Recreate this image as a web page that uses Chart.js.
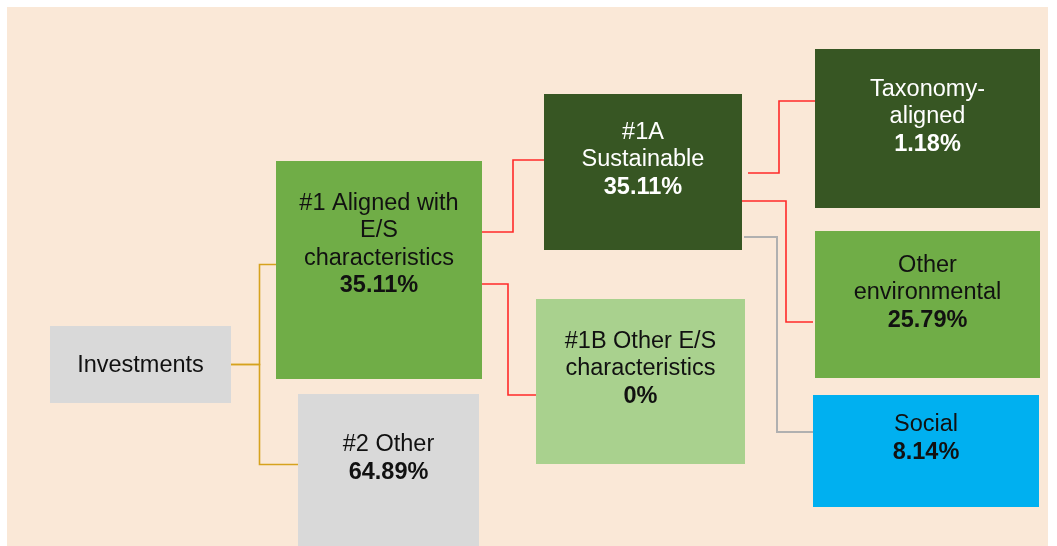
<!DOCTYPE html>
<html>
<head>
<meta charset="utf-8">
<script src="https://cdn.jsdelivr.net/npm/chart.js@4/dist/chart.umd.min.js"></script>
<style>
  html, body { margin: 0; padding: 0; background: #fff; }
  #tree { display: block; }
</style>
</head>
<body>
<canvas id="tree" width="1057" height="546"></canvas>
<script>
// data
const nodeLabels = [
    ['Investments'],
    ['#1 Aligned with', 'E/S', 'characteristics'],
    ['#2 Other'],
    ['#1A', 'Sustainable'],
    ['#1B Other E/S', 'characteristics'],
    ['Taxonomy-', 'aligned'],
    ['Other', 'environmental'],
    ['Social']
];
const nodeShares = [null, 35.11, 64.89, 35.11, 0, 1.18, 25.79, 8.14];
const nodeParents = [null, 0, 0, 1, 1, 3, 3, 3];

// layout (page pixels): box left, top, right, bottom, first text line y
const boxLeft   = [50, 276, 298, 544, 536, 815, 815, 813];
const boxTop    = [326, 161, 394, 94, 299, 49, 231, 395];
const boxRight  = [231, 482, 479, 742, 745, 1040, 1040, 1039];
const boxBottom = [403, 379, 560, 250, 464, 208, 378, 507];
const textTop   = [366, 203.5, 445, 132.5, 341.5, 89.5, 265.5, 425];
const boxColors = ['#D9D9D9', '#70AD47', '#D9D9D9', '#375623', '#A9D18E', '#375623', '#70AD47', '#00B0F0'];
const textColors = ['#111', '#111', '#111', '#fff', '#111', '#fff', '#111', '#111'];

// connectors: [fromX, fromY, elbowX, toY, toX], colour
const links = [
    [231, 364.5, 259.5, 264.5, 276, '#D6A21E'],
    [231, 364.5, 259.5, 464.5, 298, '#D6A21E'],
    [482, 232, 513, 160, 544, '#FF2A2A'],
    [479, 284, 508, 395, 536, '#FF2A2A'],
    [748, 173, 779, 101, 815, '#FF2A2A'],
    [742, 201, 786, 322, 813, '#FF2A2A'],
    [744, 237, 777, 432, 818, '#B0B0B0']
];

const lineHeight = 27.5;
const fontFamily = 'Arial, "Liberation Sans", Helvetica, sans-serif';

const treePlugin = {
    id: 'treeBoxes',
    beforeDraw(chart) {
        const c = chart.ctx;
        const x = chart.scales.x, y = chart.scales.y;
        c.save();
        c.fillStyle = '#fff';
        c.fillRect(0, 0, chart.width, chart.height);
        c.fillStyle = '#FAE8D7';
        c.fillRect(x.getPixelForValue(7), y.getPixelForValue(7),
            x.getPixelForValue(1048) - x.getPixelForValue(7), y.getPixelForValue(546) - y.getPixelForValue(7));
        c.restore();
    },
    afterDatasetsDraw(chart) {
        const c = chart.ctx;
        const x = chart.scales.x, y = chart.scales.y;
        c.save();
        links.forEach(l => {
            c.strokeStyle = l[5];
            c.lineWidth = l[5] === '#B0B0B0' ? 2 : 1.6;
            c.beginPath();
            c.moveTo(x.getPixelForValue(l[0]), y.getPixelForValue(l[1]));
            c.lineTo(x.getPixelForValue(l[2]), y.getPixelForValue(l[1]));
            c.lineTo(x.getPixelForValue(l[2]), y.getPixelForValue(l[3]));
            c.lineTo(x.getPixelForValue(l[4]), y.getPixelForValue(l[3]));
            c.stroke();
        });
        nodeLabels.forEach((lines, i) => {
            const x0 = x.getPixelForValue(boxLeft[i]), x1 = x.getPixelForValue(boxRight[i]);
            const y0 = y.getPixelForValue(boxTop[i]), y1 = y.getPixelForValue(boxBottom[i]);
            c.fillStyle = boxColors[i];
            c.fillRect(x0, y0, x1 - x0, y1 - y0);
            c.fillStyle = textColors[i];
            c.textAlign = 'center';
            c.textBaseline = 'middle';
            const cx = (x0 + x1) / 2;
            let ty = y.getPixelForValue(textTop[i]);
            c.font = '23.5px ' + fontFamily;
            lines.forEach(t => { c.fillText(t, cx, ty); ty += lineHeight; });
            if (nodeShares[i] !== null) {
                c.font = 'bold 23.5px ' + fontFamily;
                c.fillText(nodeShares[i] + '%', cx, ty);
            }
        });
        c.restore();
    }
};

new Chart(document.getElementById('tree'), {
    type: 'scatter',
    data: {
        datasets: [{
            data: nodeLabels.map((_, i) => ({ x: (boxLeft[i] + boxRight[i]) / 2, y: (boxTop[i] + boxBottom[i]) / 2 })),
            pointRadius: 0
        }]
    },
    options: {
        responsive: false,
        animation: false,
        layout: { padding: 0 },
        plugins: { legend: { display: false }, tooltip: { enabled: false } },
        scales: {
            x: { type: 'linear', min: 0, max: 1057, display: false },
            y: { type: 'linear', min: 0, max: 546, reverse: true, display: false }
        }
    },
    plugins: [treePlugin]
});
</script>
</body>
</html>
